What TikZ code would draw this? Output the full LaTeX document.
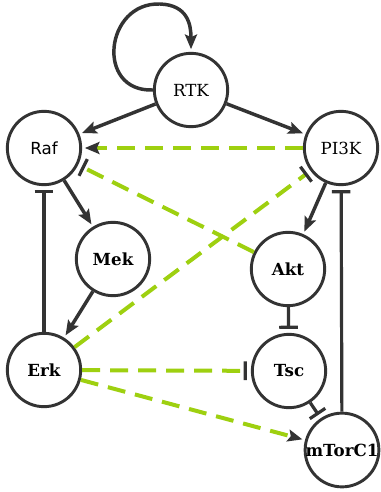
\documentclass[tikz,border=0pt]{standalone}
\usepackage{fontspec}
\setmainfont{DejaVu Serif}
\newfontfamily\rafFont{DejaVu Sans}
\usetikzlibrary{arrows.meta}
\definecolor{edgecol}{RGB}{51,51,51}
\definecolor{crosscol}{RGB}{158,208,16}
\tikzset{
  % protein node
  pnode/.style={circle, draw=edgecol, fill=white, line width=2.2pt, minimum size=55pt,
                inner sep=0pt, font=\fontsize{12.5}{14}\selectfont},
  % bold protein node
  bnode/.style={pnode, font=\fontsize{12.5}{14}\selectfont\bfseries},
  % activation edge
  act/.style={-{Stealth[length=11pt,width=9pt,inset=2pt]}, line width=2.6pt, draw=edgecol,
               shorten >=2pt},
  % inhibition edge
  inh/.style={-{Bar[width=14pt,line width=2.4pt]}, line width=2.4pt, draw=edgecol,
               shorten >=3pt},
  % crosstalk activation (dashed)
  xact/.style={-{Stealth[length=11pt,width=9pt,inset=2pt,color=edgecol]}, line width=3pt,
               draw=crosscol, dash pattern=on 13.5pt off 7.5pt, shorten >=2pt},
  % crosstalk inhibition (dashed)
  xinh/.style={-{Bar[width=14pt,line width=2.4pt,color=edgecol]}, line width=3pt,
               draw=crosscol, dash pattern=on 13.5pt off 7.5pt, shorten >=3pt},
}
\begin{document}
\begin{tikzpicture}[x=0.75pt, y=-0.75pt]
  \useasboundingbox (0,0) rectangle (380,492);
  % nodes
  \node[pnode] (rtk) at (191,90) {RTK};
  \node[pnode] (raf) at (44,148) {\rafFont Raf};
  \node[pnode] (pi3k) at (341,148) {PI3K};
  \node[bnode] (mek) at (113,259) {Mek};
  \node[bnode] (akt) at (288,269) {Akt};
  \node[bnode] (erk) at (44,370) {Erk};
  \node[bnode] (tsc) at (289,371) {Tsc};
  \node[bnode] (mtor) at (342,450) {mTorC1};
  % self loop
  \draw[act] (rtk.west) .. controls (95,92) and (105,2) .. (160,4)
    .. controls (188,5) and (191,25) .. (rtk.north);
  % solid edges
  \draw[act] (rtk) -- (raf);
  \draw[act] (rtk) -- (pi3k);
  \draw[act] (raf) -- (mek);
  \draw[act] (mek) -- (erk);
  \draw[act] (pi3k) -- (akt);
  \draw[inh] (erk) -- (raf);
  \draw[inh] (mtor) -- (pi3k);
  \draw[inh] (akt) -- (tsc);
  \draw[inh] (tsc) -- (mtor);
  % crosstalk
  \draw[xact] (pi3k) -- (raf);
  \draw[xinh] (akt) -- (raf);
  \draw[xinh] (erk) -- (pi3k);
  \draw[xinh] (erk) -- (tsc);
  \draw[xact] (erk) -- (mtor);
\end{tikzpicture}
\end{document}
